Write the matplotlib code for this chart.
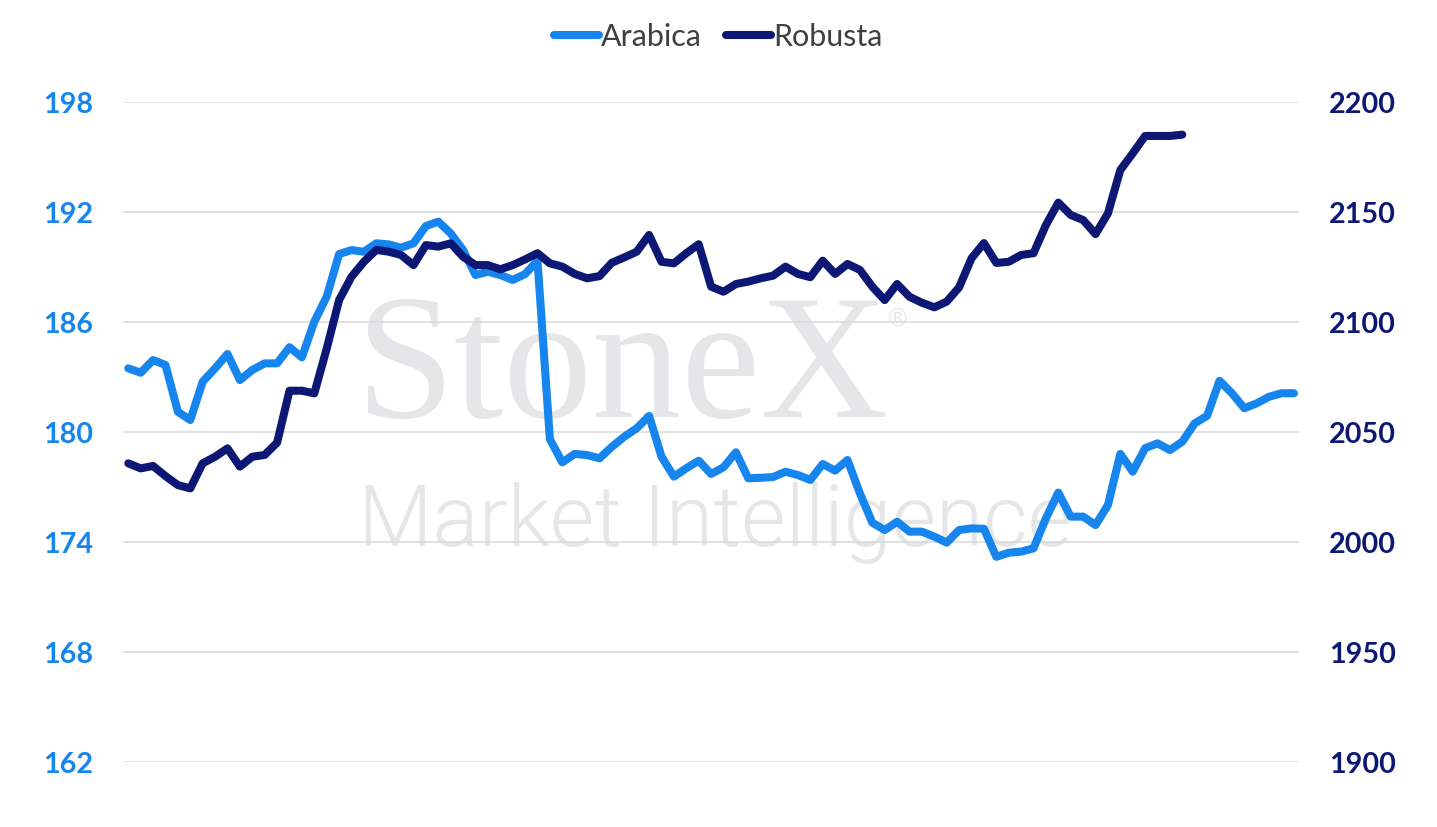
import matplotlib
matplotlib.use('Agg')
import matplotlib.pyplot as plt
import numpy as np

# weekly prices
arabica = [183.49, 183.25, 183.94, 183.67, 181.12, 180.67, 182.76, 183.49, 184.27, 182.85,
           183.40, 183.76, 183.76, 184.64, 184.09, 186.03, 187.40, 189.72, 189.94, 189.85,
           190.31, 190.25, 190.07, 190.31, 191.25, 191.49, 190.85, 189.94, 188.58, 188.76,
           188.58, 188.31, 188.63, 189.36, 179.62, 178.36, 178.82, 178.76, 178.58, 179.21,
           179.76, 180.22, 180.89, 178.67, 177.58, 178.04, 178.45, 177.73, 178.09, 178.91,
           177.49, 177.52, 177.56, 177.85, 177.67, 177.40, 178.27, 177.91, 178.49, 176.67,
           175.07, 174.67, 175.12, 174.58, 174.58, 174.31, 173.98, 174.67, 174.76, 174.74,
           173.21, 173.43, 173.49, 173.67, 175.31, 176.71, 175.40, 175.40, 174.94, 176.03,
           178.82, 177.85, 179.13, 179.40, 179.03, 179.49, 180.49, 180.90, 182.81, 182.13,
           181.31, 181.58, 181.94, 182.13, 182.13]
robusta = [2035.9, 2033.6, 2034.7, 2030.1, 2026.0, 2024.5, 2035.9, 2038.9, 2042.7, 2034.4,
           2038.9, 2039.7, 2045.3, 2068.9, 2068.9, 2067.7, 2088.0, 2110.1, 2120.7, 2127.5,
           2132.9, 2132.1, 2130.6, 2126.0, 2135.1, 2134.4, 2135.9, 2129.8, 2126.0, 2126.0,
           2124.1, 2126.0, 2128.6, 2131.4, 2126.8, 2125.3, 2122.0, 2120.0, 2121.0, 2127.1,
           2129.5, 2132.1, 2139.7, 2127.5, 2126.8, 2131.4, 2135.5, 2116.2, 2113.9, 2117.4,
           2118.5, 2120.0, 2121.2, 2125.3, 2122.0, 2120.5, 2128.0, 2122.0, 2126.5, 2123.8,
           2116.2, 2110.1, 2117.4, 2111.6, 2108.9, 2106.8, 2109.4, 2115.9, 2129.1, 2136.0,
           2127.0, 2127.5, 2130.6, 2131.4, 2144.2, 2154.4, 2148.8, 2146.5, 2140.1, 2149.5,
           2169.2, 2176.8, 2184.7, 2184.7, 2184.7, 2185.3]
left_ticks = [162, 168, 174, 180, 186, 192, 198]
right_ticks = [1900, 1950, 2000, 2050, 2100, 2150, 2200]

light = '#1685ee'
dark = '#0c1874'
wm = '#e5e6e7'

W, H = 1437, 827
fig = plt.figure(figsize=(W / 100, H / 100), dpi=100)
ax = fig.add_axes([122.7 / W, 1 - 762.3 / H, (1299.5 - 122.7) / W, (762.3 - 102.3) / H])
ax.patch.set_visible(False)
ax2 = ax.twinx()

# watermark
fig.text(355 / W, 1 - 417 / H, 'StoneX', family='Liberation Serif', fontsize=128,
         color=wm, va='baseline', ha='left', zorder=-2)
fig.text(358 / W, 1 - 545.7 / H, 'Market Intelligence', family='Roboto', fontweight=300,
         fontsize=62, color=wm, va='baseline', ha='left', zorder=-2)
fig.text(898 / W, 1 - 320 / H, '\u00ae', family='DejaVu Sans', fontsize=17,
         color=wm, va='center', ha='center', zorder=-2)

xa = np.arange(len(arabica))
xr = np.arange(len(robusta))
la, = ax.plot(xa, arabica, color=light, lw=5.8, solid_capstyle='round',
              solid_joinstyle='round', label='Arabica')
lr, = ax2.plot(xr, robusta, color=dark, lw=5.8, solid_capstyle='round',
               solid_joinstyle='round', label='Robusta')

ax.set_xlim(-0.45, len(arabica) - 1 + 0.45)
ax.set_ylim(162, 198)
ax2.set_ylim(1900, 2200)
ax.set_yticks(left_ticks)
ax2.set_yticks(right_ticks)
ax.set_xticks([])
ax.yaxis.grid(True, color='#d9d9d9', lw=1.1)
ax.set_axisbelow(True)

for a in (ax, ax2):
    for s in a.spines.values():
        s.set_visible(False)
ax.tick_params(axis='y', length=0, pad=21, labelcolor=light)
ax2.tick_params(axis='y', length=0, pad=21, labelcolor=dark)
for lbl in ax.get_yticklabels() + ax2.get_yticklabels():
    lbl.set_fontfamily('Lato')
    lbl.set_fontweight('bold')
    lbl.set_fontsize(20.7)

leg = fig.legend(handles=[la, lr], loc='center', bbox_to_anchor=(0.5, 1 - 37 / H), ncol=2,
                 frameon=False, handlelength=1.45, handletextpad=0.08, columnspacing=0.8,
                 prop={'family': 'Lato', 'size': 22})
for t in leg.get_texts():
    t.set_color('#404040')

fig.savefig('out.png', dpi=100)
